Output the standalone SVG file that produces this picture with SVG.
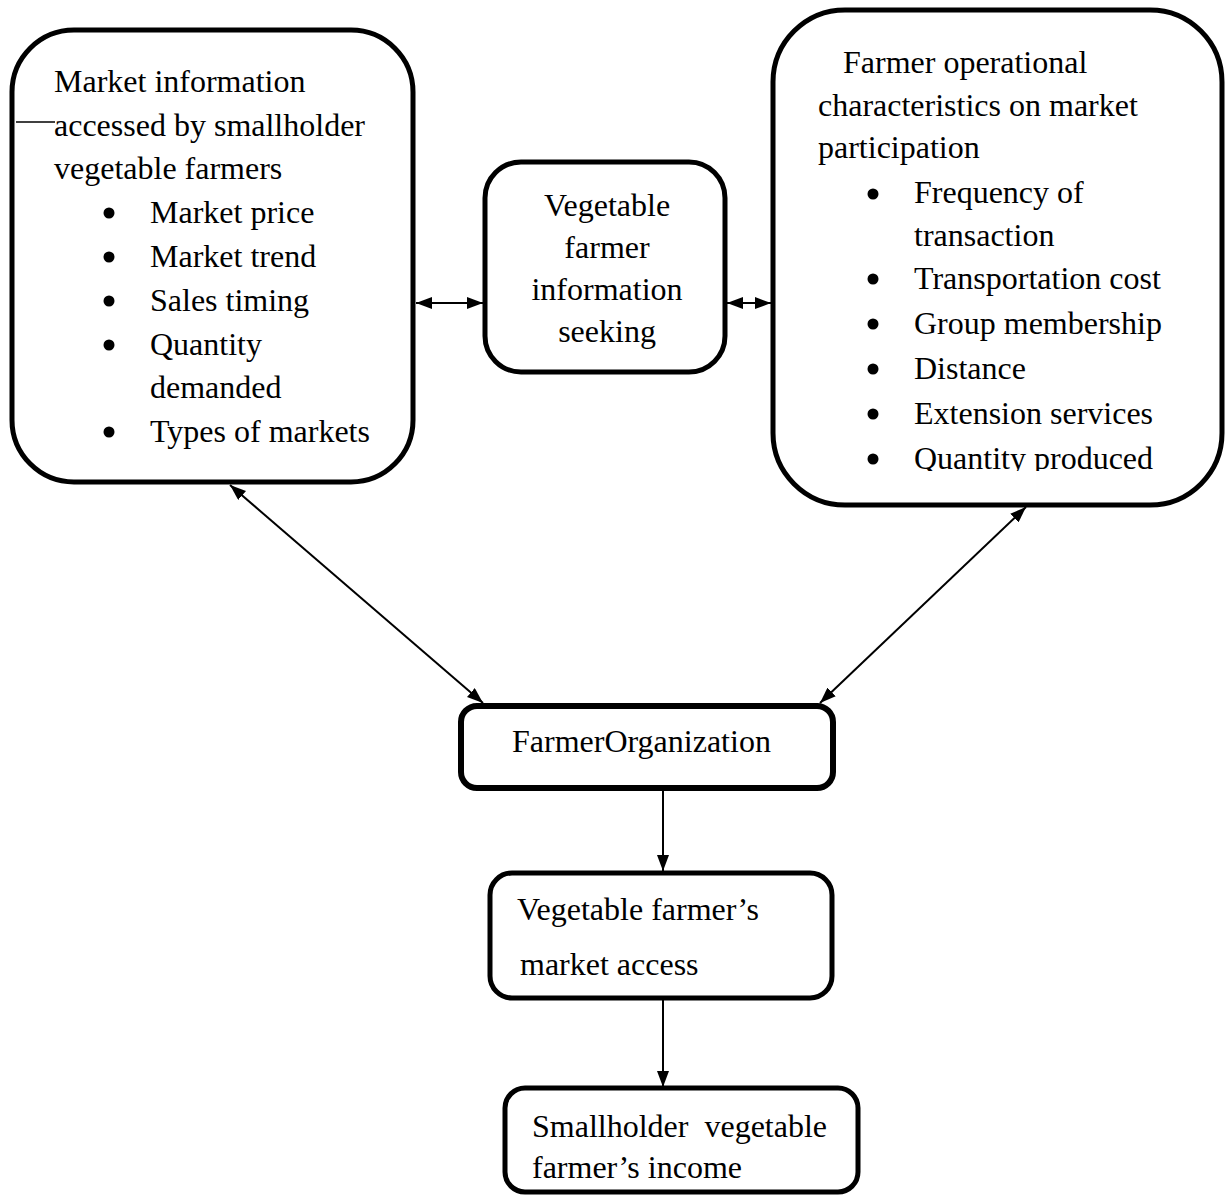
<svg xmlns="http://www.w3.org/2000/svg" width="1225" height="1195" viewBox="0 0 1225 1195" font-family="'Liberation Serif', 'Times New Roman', serif">
<style>
  .box { fill: #fff; stroke: #000; stroke-width: 5; }
  .t { font-size: 32px; fill: #000; white-space: pre; }
  .c { text-anchor: middle; }
  .con { stroke: #000; stroke-width: 2; fill: none; }
  .bul { fill: #000; }
</style>
<defs>
  <marker id="ah" viewBox="0 0 16 12" refX="16" refY="6" markerWidth="16" markerHeight="12" markerUnits="userSpaceOnUse" orient="auto-start-reverse">
    <path d="M0,0 L16,6 L0,12 Z" fill="#000"/>
  </marker>
  <clipPath id="clipR"><rect x="773" y="10" width="450" height="461"/></clipPath>
</defs>
<rect width="1225" height="1195" fill="#fff"/>

<g id="market-info">
  <rect class="box" x="12" y="30" width="401" height="452" rx="62" ry="62"/>
  <line x1="16" y1="122" x2="55" y2="122" stroke="#000" stroke-width="1.5"/>
  <text class="t" x="54" y="92" font-family="Liberation Serif">Market information</text>
  <text class="t" x="54" y="136">accessed by smallholder</text>
  <text class="t" x="54" y="179">vegetable farmers</text>
  <circle class="bul" cx="109" cy="213" r="5.5"/>
  <text class="t" x="150" y="223">Market price</text>
  <circle class="bul" cx="109" cy="257" r="5.5"/>
  <text class="t" x="150" y="267">Market trend</text>
  <circle class="bul" cx="109" cy="301" r="5.5"/>
  <text class="t" x="150" y="311">Sales timing</text>
  <circle class="bul" cx="109" cy="345" r="5.5"/>
  <text class="t" x="150" y="355">Quantity</text>
  <text class="t" x="150" y="398">demanded</text>
  <circle class="bul" cx="109" cy="432" r="5.5"/>
  <text class="t" x="150" y="442">Types of markets</text>
</g>

<g id="info-seeking">
  <rect class="box" x="485" y="162" width="240" height="210" rx="36" ry="36"/>
  <text class="t c" x="607" y="216">Vegetable</text>
  <text class="t c" x="607" y="258">farmer</text>
  <text class="t c" x="607" y="300">information</text>
  <text class="t c" x="607" y="342">seeking</text>
</g>

<g id="operational">
  <rect class="box" x="773" y="10" width="449" height="495" rx="72" ry="72"/>
  <g clip-path="url(#clipR)">
    <text class="t" x="843" y="73">Farmer operational</text>
    <text class="t" x="818" y="116">characteristics on market</text>
    <text class="t" x="818" y="158">participation</text>
    <circle class="bul" cx="873" cy="194" r="5.5"/>
    <text class="t" x="914" y="203">Frequency of</text>
    <text class="t" x="914" y="246">transaction</text>
    <circle class="bul" cx="873" cy="279" r="5.5"/>
    <text class="t" x="914" y="289">Transportation cost</text>
    <circle class="bul" cx="873" cy="324" r="5.5"/>
    <text class="t" x="914" y="334">Group membership</text>
    <circle class="bul" cx="873" cy="369" r="5.5"/>
    <text class="t" x="914" y="379">Distance</text>
    <circle class="bul" cx="873" cy="414" r="5.5"/>
    <text class="t" x="914" y="424">Extension services</text>
    <circle class="bul" cx="873" cy="459" r="5.5"/>
    <text class="t" x="914" y="469">Quantity produced</text>
  </g>
</g>

<g id="farmer-org">
  <rect class="box" x="461" y="706" width="372" height="82" rx="16" ry="16" style="stroke-width:6"/>
  <text class="t" x="512" y="752">FarmerOrganization</text>
</g>

<g id="market-access">
  <rect class="box" x="490" y="873" width="342" height="125" rx="22" ry="22"/>
  <text class="t" x="517" y="920">Vegetable farmer’s</text>
  <text class="t" x="520" y="975">market access</text>
</g>

<g id="income">
  <rect class="box" x="505" y="1088" width="353" height="104" rx="20" ry="20"/>
  <text class="t" x="532" y="1137">Smallholder  vegetable</text>
  <text class="t" x="532" y="1178">farmer’s income</text>
</g>

<g id="connectors">
  <line class="con" x1="416" y1="303" x2="483" y2="303" marker-start="url(#ah)" marker-end="url(#ah)"/>
  <line class="con" x1="727" y1="303" x2="771" y2="303" marker-start="url(#ah)" marker-end="url(#ah)"/>
  <line class="con" x1="230" y1="485" x2="483" y2="703" marker-start="url(#ah)" marker-end="url(#ah)"/>
  <line class="con" x1="1026" y1="507" x2="820" y2="703" marker-start="url(#ah)" marker-end="url(#ah)"/>
  <line class="con" x1="663" y1="791" x2="663" y2="871" marker-end="url(#ah)"/>
  <line class="con" x1="663" y1="1000" x2="663" y2="1087" marker-end="url(#ah)"/>
</g>
</svg>
